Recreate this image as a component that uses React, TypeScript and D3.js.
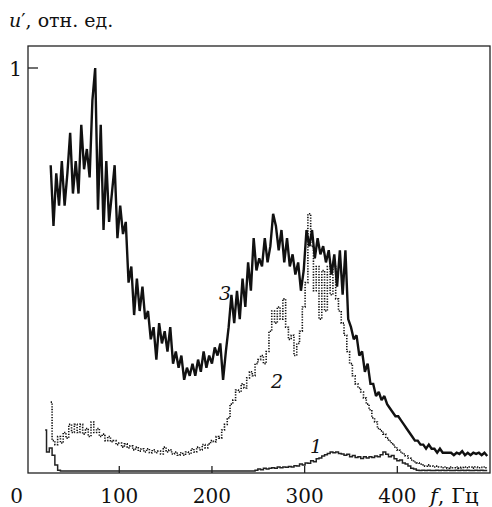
import React from 'react';
import * as d3 from 'd3';

// frequency bins, Hz (3 Hz spacing, 20 … 497)
const FREQ: number[] = d3.range(20, 500, 3);

// curve 3 (solid, heavy)
const U3: (number | null)[] = [
  null, null,
  0.76, 0.61, 0.74, 0.66, 0.77, 0.66, 0.74, 0.84, 0.69, 0.77,
  0.69, 0.86, 0.75, 0.80, 0.73, 0.92, 1.00, 0.65, 0.86, 0.60,
  0.77, 0.62, 0.69, 0.76, 0.58, 0.66, 0.59, 0.62, 0.47, 0.51,
  0.39, 0.48, 0.40, 0.46, 0.38, 0.40, 0.33, 0.36, 0.28, 0.37,
  0.32, 0.35, 0.30, 0.36, 0.27, 0.30, 0.26, 0.29, 0.23, 0.26,
  0.24, 0.27, 0.24, 0.28, 0.25, 0.30, 0.26, 0.29, 0.27, 0.31,
  0.29, 0.32, 0.23, 0.30, 0.36, 0.44, 0.37, 0.45, 0.38, 0.48,
  0.41, 0.52, 0.45, 0.58, 0.50, 0.53, 0.51, 0.58, 0.52, 0.56,
  0.64, 0.61, 0.55, 0.60, 0.52, 0.58, 0.51, 0.54, 0.49, 0.52,
  0.45, 0.50, 0.60, 0.56, 0.60, 0.53, 0.58, 0.54, 0.56, 0.52,
  0.55, 0.49, 0.54, 0.46, 0.55, 0.44, 0.55, 0.38, 0.36, 0.33,
  0.34, 0.29, 0.30, 0.25, 0.27, 0.22, 0.22, 0.19, 0.20, 0.18,
  0.19, 0.17, 0.16, 0.15, 0.14, 0.14, 0.13, 0.12, 0.11, 0.10,
  0.09, 0.08, 0.08, 0.07, 0.07, 0.06, 0.07, 0.06, 0.06, 0.05,
  0.06, 0.05, 0.05, 0.05, 0.05, 0.044, 0.05, 0.047, 0.054, 0.044,
  0.05, 0.044, 0.05, 0.047, 0.05, 0.044, 0.05, 0.042,
];

// curve 2 (dotted)
const U2: (number | null)[] = [
  null, null,
  0.175, 0.08, 0.07, 0.09, 0.074, 0.10, 0.086, 0.12, 0.10, 0.12,
  0.10, 0.12, 0.096, 0.11, 0.09, 0.126, 0.10, 0.11, 0.09, 0.096,
  0.08, 0.09, 0.077, 0.08, 0.07, 0.074, 0.064, 0.072, 0.062, 0.067,
  0.057, 0.064, 0.054, 0.06, 0.052, 0.06, 0.05, 0.057, 0.05, 0.054,
  0.047, 0.064, 0.052, 0.057, 0.047, 0.052, 0.044, 0.05, 0.044, 0.052,
  0.047, 0.06, 0.052, 0.064, 0.057, 0.07, 0.062, 0.072, 0.08, 0.077,
  0.09, 0.086, 0.106, 0.12, 0.136, 0.17, 0.18, 0.205, 0.20, 0.22,
  0.21, 0.235, 0.25, 0.24, 0.27, 0.28, 0.29, 0.27, 0.30, 0.35,
  0.40, 0.37, 0.41, 0.38, 0.43, 0.36, 0.33, 0.34, 0.29, 0.32,
  0.35, 0.41, 0.47, 0.64, 0.56, 0.45, 0.51, 0.38, 0.50, 0.40,
  0.51, 0.44, 0.51, 0.43, 0.40, 0.37, 0.34, 0.30, 0.27, 0.24,
  0.22, 0.21, 0.20, 0.185, 0.17, 0.156, 0.136, 0.126, 0.11, 0.104,
  0.096, 0.086, 0.079, 0.072, 0.064, 0.057, 0.052, 0.047, 0.042, 0.037,
  0.032, 0.027, 0.025, 0.022, 0.02, 0.017, 0.02, 0.017, 0.015, 0.017,
  0.015, 0.013, 0.015, 0.012, 0.015, 0.013, 0.015, 0.012, 0.014, 0.015,
  0.013, 0.015, 0.012, 0.015, 0.013, 0.014, 0.015, 0.013,
];

// curve 1 (solid, thin)
const U1: (number | null)[] = [
  0.106, 0.052, 0.062, 0.044, 0.02, 0.007,
  0.005, 0.005, 0.005, 0.005, 0.005, 0.005, 0.005, 0.005, 0.005, 0.005,
  0.005, 0.005, 0.005, 0.005, 0.005, 0.005, 0.005, 0.005, 0.005, 0.005,
  0.005, 0.005, 0.005, 0.005, 0.005, 0.005, 0.005, 0.005, 0.005, 0.005,
  0.005, 0.005, 0.005, 0.005, 0.005, 0.005, 0.005, 0.005, 0.005, 0.005,
  0.005, 0.005, 0.005, 0.005, 0.005, 0.005, 0.005, 0.005, 0.005, 0.005,
  0.005, 0.005, 0.005, 0.005, 0.005, 0.005, 0.005, 0.005, 0.005, 0.005,
  0.005, 0.005, 0.005, 0.005, 0.005, 0.005, 0.005, 0.005, 0.005, 0.005,
  0.007, 0.010, 0.008, 0.012, 0.010, 0.012, 0.013, 0.012, 0.015, 0.013,
  0.015, 0.014, 0.016, 0.015, 0.018, 0.017, 0.022, 0.020, 0.025, 0.024,
  0.030, 0.028, 0.035, 0.037, 0.042, 0.045, 0.048, 0.052, 0.050, 0.052,
  0.048, 0.047, 0.044, 0.046, 0.040, 0.043, 0.038, 0.040, 0.036, 0.040,
  0.037, 0.040, 0.038, 0.042, 0.040, 0.045, 0.052, 0.046, 0.040, 0.043,
  0.035, 0.030, 0.032, 0.025, 0.022, 0.017, 0.012, 0.010,
  0.007, 0.006, 0.007, 0.006, 0.007, 0.006, 0.006, 0.007, 0.006, 0.007,
  0.006, 0.007, 0.006, 0.006, 0.007, 0.006, 0.007, 0.006, 0.007, 0.006,
  0.006, 0.007, 0.006, 0.007, 0.006, 0.006,
];

const X_TICKS = [100, 200, 300, 400];
const Y_TICKS = [1];

const FONT = '"DejaVu Serif", serif';
const TXT: React.CSSProperties = { fontFamily: FONT };

export default function App() {
  const W = 492, H = 507;
  const x = d3.scaleLinear().domain([0, 500]).range([26.6, 490]);
  const y = d3.scaleLinear().domain([0, 1]).range([473, 68]);
  const box = { l: 28, r: 490, t: 46, b: 473 };

  const mk = (vals: (number | null)[], curve: d3.CurveFactory) =>
    d3.line<[number, number | null]>()
      .defined(d => d[1] != null)
      .x(d => x(d[0]))
      .y(d => y(d[1] as number))
      .curve(curve)(FREQ.map((f, i) => [f, vals[i]] as [number, number | null])) || '';

  return (
    <svg width={W} height={H} style={{ position: 'absolute', left: 0, top: 0, background: '#fff' }}>
      <rect x={0} y={0} width={W} height={H} fill="#fff" />
      {/* curves */}
      <path d={mk(U1, d3.curveStep)} fill="none" stroke="#222" strokeWidth={1.5} />
      <path d={mk(U2, d3.curveStep)} fill="none" stroke="#111" strokeWidth={1.6} strokeDasharray="1.3 1.4" />
      <path d={mk(U3, d3.curveLinear)} fill="none" stroke="#111" strokeWidth={2.4} strokeLinejoin="miter" strokeMiterlimit={2} />
      {/* frame */}
      <rect x={box.l} y={box.t} width={box.r - box.l} height={box.b - box.t} fill="none" stroke="#222" strokeWidth={1.3} />
      {X_TICKS.map(t => (
        <line key={t} x1={x(t)} x2={x(t)} y1={box.b} y2={box.b - 7} stroke="#222" strokeWidth={1.3} />
      ))}
      {Y_TICKS.map(t => (
        <line key={t} x1={box.l} x2={box.l + 10} y1={y(t)} y2={y(t)} stroke="#222" strokeWidth={1.3} />
      ))}
      {/* tick labels */}
      <text style={TXT} x={x(0) - 10} y={503} fontSize={20} textAnchor="middle" fill="#111">0</text>
      {X_TICKS.map(t => (
        <text key={t} style={TXT} x={x(t)} y={503} fontSize={20} textAnchor="middle" fill="#111">{t}</text>
      ))}
      {Y_TICKS.map(t => (
        <text key={t} style={TXT} x={22} y={y(t) + 8} fontSize={20} textAnchor="end" fill="#111">{t}</text>
      ))}
      <text style={TXT} x={430} y={503} fontSize={21} fill="#111">
        <tspan fontStyle="italic">f</tspan>, Гц
      </text>
      <text style={TXT} x={9} y={27} fontSize={19} fill="#111">
        <tspan fontStyle="italic">u</tspan>′, отн. ед.
      </text>
      {/* curve labels */}
      <text style={TXT} x={225} y={300} fontSize={19} fontStyle="italic" textAnchor="middle" fill="#111">3</text>
      <text style={TXT} x={277} y={388} fontSize={19} fontStyle="italic" textAnchor="middle" fill="#111">2</text>
      <text style={TXT} x={316} y={453} fontSize={19} fontStyle="italic" textAnchor="middle" fill="#111">1</text>
    </svg>
  );
}
